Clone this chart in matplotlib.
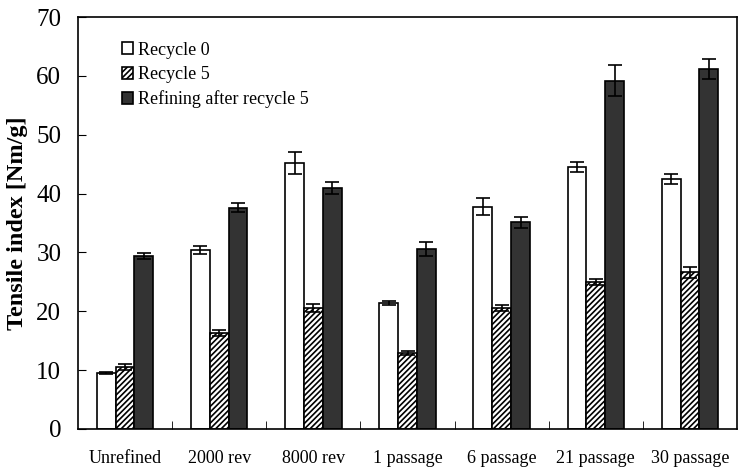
import numpy as np
import matplotlib.pyplot as plt
from matplotlib.ticker import FixedLocator

plt.rcParams['font.family'] = ['Liberation Serif', 'DejaVu Serif']
plt.rcParams['hatch.color'] = '#555555'
plt.rcParams['hatch.linewidth'] = 1.2

groups = ['Unrefined', '2000 rev', '8000 rev', '1 passage', '6 passage', '21 passage', '30 passage']
recycle0 = [9.5, 30.4, 45.2, 21.4, 37.8, 44.5, 42.5]
recycle0_err = [0.2, 0.7, 1.8, 0.3, 1.5, 0.8, 0.9]
recycle5 = [10.5, 16.3, 20.6, 12.9, 20.6, 25.0, 26.6]
recycle5_err = [0.5, 0.5, 0.7, 0.3, 0.5, 0.5, 1.0]
refined5 = [29.4, 37.6, 41.0, 30.6, 35.1, 59.2, 61.2]
refined5_err = [0.5, 0.8, 1.0, 1.2, 1.0, 2.7, 1.7]

fig = plt.figure(figsize=(7.38, 4.71), dpi=100)
ax = fig.add_axes([0.1057, 0.0892, 0.8930, 0.8747])

x = np.arange(len(groups))
w = 0.2
err_kw = dict(ecolor='black', elinewidth=1.2, capsize=5, capthick=1.2)

ax.bar(x - w, recycle0, w, yerr=recycle0_err, color='white', edgecolor='black',
       linewidth=1.2, label='Recycle 0', error_kw=err_kw)
ax.bar(x, recycle5, w, yerr=recycle5_err, color='white', edgecolor='black',
       hatch='//////', linewidth=1.2, label='Recycle 5', error_kw=err_kw)
ax.bar(x + w, refined5, w, yerr=refined5_err, color='#333333', edgecolor='black',
       linewidth=1.2, label='Refining after recycle 5', error_kw=err_kw)

ax.set_xlim(-0.5, len(groups) - 0.5)
ax.set_ylim(0, 70)
ax.set_yticks(np.arange(0, 71, 10))
ax.set_xticks(x)
ax.set_xticklabels(groups, fontsize=13)
ax.xaxis.set_minor_locator(FixedLocator(np.arange(0.5, len(groups) - 1, 1)))
ax.tick_params(axis='x', which='major', length=0, pad=15)
ax.tick_params(axis='x', which='minor', direction='in', length=6)
ax.tick_params(axis='y', direction='in', length=6, labelsize=18, pad=12)
ax.set_ylabel('Tensile index [Nm/g]', fontsize=17.5, fontweight='bold', labelpad=6)

for s in ax.spines.values():
    s.set_linewidth(1.2)

ax.legend(loc='upper left', bbox_to_anchor=(0.066, 0.94), frameon=False, fontsize=13,
          borderpad=0, borderaxespad=0,
          handlelength=0.65, handleheight=0.65, handletextpad=0.25, labelspacing=0.4)

plt.savefig('out.png', dpi=100)
